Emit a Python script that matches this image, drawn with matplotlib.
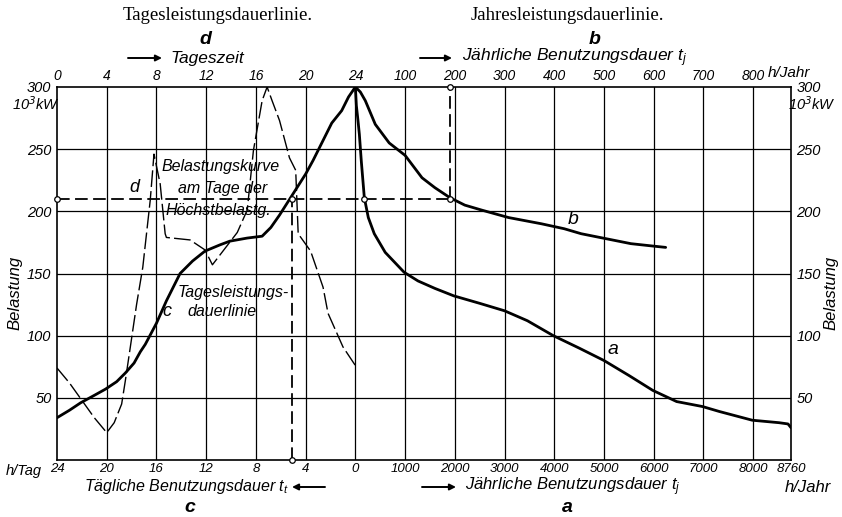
import numpy as np
import matplotlib
matplotlib.use('Agg')
import matplotlib.pyplot as plt

plt.rcParams['font.family'] = ['Liberation Sans Narrow', 'Liberation Sans', 'DejaVu Sans']
plt.rcParams['font.style'] = 'italic'
plt.rcParams['mathtext.fontset'] = 'custom'
plt.rcParams['mathtext.it'] = 'Liberation Sans:italic'

# d: load on the day of peak demand, time of day (h)
d_time = [0, 1, 2, 3, 4, 4.6, 5.2, 5.5, 5.9, 6.4, 6.9, 7.5, 7.8, 8.3, 8.7, 8.8,
          10.7, 11.9, 12.5, 14.5, 15.3, 15.8, 16.5, 16.9, 17.3, 17.9, 18.7,
          19.2, 19.4, 20.4, 21.4, 21.8, 23, 24]
d_load = [74, 62, 48, 34, 22, 30, 45, 64, 91, 125, 155, 209, 246, 222, 182, 179,
          177, 169, 157, 183, 201, 249, 289, 300, 289, 273, 243,
          233, 182, 168, 139, 118, 91, 76]

# c: daily load duration curve, hours per day (h/Tag)
c_hours = [24, 23, 22.1, 21, 20.1, 19.2, 18.5, 17.8, 17.3, 16.9, 16.0, 15.2,
           14.1, 13.1, 12.1, 10.9, 10.1, 8.7, 7.5, 6.8, 6.1, 4.7, 4.0, 3.4,
           2.6, 1.9, 1.1, 0.55, 0]
c_load = [34, 40, 46, 52, 57, 63, 70, 78, 87, 93, 110, 128,
          150, 160, 168, 173, 176, 178.5, 180, 187, 197, 219, 230, 241,
          257, 271, 281, 292, 300]

# a: annual load duration curve (h/Jahr)
a_hours = [0, 20, 50, 80, 120, 180, 260, 380, 600, 980, 1260, 1600, 1980,
           2500, 3000, 3460, 3980, 4500, 5000, 5500, 5980, 6460, 6980, 7320,
           7980, 8520, 8700, 8760]
a_load = [300, 285, 274, 262, 240, 211, 195, 182, 167, 151, 144, 138, 132,
          126, 120, 112, 100, 90, 80, 68, 56, 47, 43, 39,
          32, 30, 29, 26]

# b: annual curve on a tenfold stretched time scale (h/Jahr)
b_hours = [0, 10, 20, 40, 68, 100, 134, 160, 190, 220, 254, 308, 374, 420,
           454, 504, 554, 600, 624]
b_load = [300, 296, 289, 270, 255, 245, 227, 219, 211, 205, 201, 195, 190, 186,
          182, 178, 174, 172, 171]

# reading example at 210 * 10^3 kW
p_load = 210
p_daily = 5.1      # h/Tag on curve c
p_annual_b = 190   # h/Jahr on curve b
p_annual_a = 180   # h/Jahr on curve a

day_ticks = [0, 4, 8, 12, 16, 20, 24]
year_ticks_b = [100, 200, 300, 400, 500, 600, 700, 800]
year_ticks_a = [1000, 2000, 3000, 4000, 5000, 6000, 7000, 8000]
load_ticks = [50, 100, 150, 200, 250, 300]

# common x coordinate: day part on [-24, 0], year part 1000 h -> 4 units
def u_day_time(t):
    return np.asarray(t, float) - 24

def u_day_dur(t):
    return -np.asarray(t, float)

def u_year(t):
    return np.asarray(t, float) / 250.0

def u_year_b(t):
    return np.asarray(t, float) / 25.0

W, H = 842, 517
fig = plt.figure(figsize=(W / 100, H / 100), dpi=100)
ax = fig.add_axes([57 / W, 1 - 460 / H, 734 / W, 373 / H])
xmax = u_year(8760)
ax.set_xlim(-24, xmax)
ax.set_ylim(0, 300)

for s in ax.spines.values():
    s.set_linewidth(1.2)

def ptxt(x, y, s, **kw):
    fig.text(x / W, 1 - y / H, s, **kw)

def parrow(x0, x1, y):
    # arrow from x0 to x1 in figure pixels (y from the top)
    ax.annotate('', xy=(x1, H - y), xytext=(x0, H - y),
                xycoords='figure pixels', textcoords='figure pixels',
                arrowprops=dict(arrowstyle='-|>', lw=1.4, color='black',
                                mutation_scale=9, shrinkA=0, shrinkB=0),
                annotation_clip=False)

# grid
bx = list(u_day_dur([20, 16, 12, 8, 4, 0])) + list(u_year(year_ticks_a))
for x in bx:
    ax.axvline(x, color='black', lw=0.9, zorder=1)
for y in load_ticks[:-1]:
    ax.axhline(y, color='black', lw=0.9, zorder=1)

# curves
ax.plot(u_day_time(d_time), d_load, color='black', lw=1.0,
        dashes=(12, 3), zorder=3)
ax.plot(u_day_dur(c_hours), c_load, color='black', lw=2.0, zorder=4,
        solid_capstyle='round', solid_joinstyle='round')
ax.plot(u_year(a_hours), a_load, color='black', lw=2.0, zorder=4,
        solid_capstyle='round', solid_joinstyle='round')
ax.plot(u_year_b(b_hours), b_load, color='black', lw=2.0, zorder=4,
        solid_capstyle='round', solid_joinstyle='round')

# construction lines
xb = u_year_b(p_annual_b)
xc = u_day_dur(p_daily)
ax.plot([-24, xb], [p_load, p_load], color='black', lw=1.3, dashes=(7, 3), zorder=2)
ax.plot([xc, xc], [0, p_load], color='black', lw=1.3, dashes=(7, 3), zorder=2)
ax.plot([xb, xb], [p_load, 300], color='black', lw=1.3, dashes=(7, 3), zorder=2)
ax.plot([-24, xc, xc, u_year(p_annual_a), xb, xb],
        [p_load, p_load, 0, p_load, p_load, 300],
        'o', ms=4, mfc='white', mec='black', mew=0.9, zorder=6, clip_on=False)

# bottom scale
ax.set_xticks(list(u_day_dur([24, 20, 16, 12, 8, 4, 0])) + list(u_year(year_ticks_a)) + [xmax])
ax.set_xticklabels([str(v) for v in [24, 20, 16, 12, 8, 4, 0]] +
                   [str(v) for v in year_ticks_a] + ['8760'], fontsize=9.5)
ax.tick_params(axis='x', length=0, pad=2)

# top scale
top = ax.twiny()
top.set_xlim(ax.get_xlim())
top.set_xticks(list(u_day_time(day_ticks)) + list(u_year_b(year_ticks_b)))
top.set_xticklabels([str(v) for v in day_ticks] + [str(v) for v in year_ticks_b],
                    fontsize=10)
top.tick_params(axis='x', length=0, pad=3)
for s in top.spines.values():
    s.set_visible(False)

# load scale on both sides
ax.set_yticks(load_ticks)
ax.set_yticklabels([str(v) for v in load_ticks], fontsize=10.5)
ax.tick_params(axis='y', length=0, pad=4, labelleft=True, labelright=True)

ptxt(36, 104, '10$^3$kW', fontsize=10.5, ha='center', va='center')
ptxt(812, 104, '10$^3$kW', fontsize=10.5, ha='center', va='center')
ptxt(15, 293, 'Belastung', fontsize=12, rotation=90, ha='center', va='center')
ptxt(831, 293, 'Belastung', fontsize=12, rotation=90, ha='center', va='center')

# headings
ptxt(218, 16, 'Tagesleistungsdauerlinie.', fontsize=13.5, ha='center', va='center',
     family='Liberation Serif', style='normal')
ptxt(567, 16, 'Jahresleistungsdauerlinie.', fontsize=13.5, ha='center', va='center',
     family='Liberation Serif', style='normal')
ptxt(205, 39, 'd', fontsize=14, ha='center', va='center', weight='bold')
ptxt(595, 39, 'b', fontsize=14, ha='center', va='center', weight='bold')
parrow(128, 162, 58)
ptxt(170, 58, 'Tageszeit', fontsize=12.5, ha='left', va='center')
parrow(420, 452, 58)
ptxt(462, 58, 'Jährliche Benutzungsdauer $t_j$', fontsize=12.5, ha='left', va='center')
ptxt(768, 73, 'h/Jahr', fontsize=11, ha='left', va='center')

ptxt(6, 471, 'h/Tag', fontsize=10.5, ha='left', va='center')
ptxt(785, 487, 'h/Jahr', fontsize=12, ha='left', va='center')
ptxt(84, 487, 'Tägliche Benutzungsdauer $t_t$', fontsize=11.5, ha='left', va='center')
parrow(325, 292, 487)
parrow(422, 456, 487)
ptxt(465, 487, 'Jährliche Benutzungsdauer $t_j$', fontsize=12, ha='left', va='center')
ptxt(190, 508, 'c', fontsize=14, ha='center', va='center', weight='bold')
ptxt(567, 508, 'a', fontsize=14, ha='center', va='center', weight='bold')

# curve labels inside the chart
ptxt(162, 167, 'Belastungskurve', fontsize=11.5, ha='left', va='center')
ptxt(178, 188, 'am Tage der', fontsize=11.5, ha='left', va='center')
ptxt(165, 210, 'Höchstbelastg.', fontsize=11.5, ha='left', va='center')
ptxt(134, 187, 'd', fontsize=13, ha='center', va='center')
ptxt(178, 292, 'Tagesleistungs-', fontsize=11.5, ha='left', va='center')
ptxt(187, 311, 'dauerlinie', fontsize=11.5, ha='left', va='center')
ptxt(167, 311, 'c', fontsize=13, ha='center', va='center')
ptxt(573, 220, 'b', fontsize=14, ha='center', va='center')
ptxt(613, 350, 'a', fontsize=14, ha='center', va='center')

fig.savefig('out.png', dpi=100)
